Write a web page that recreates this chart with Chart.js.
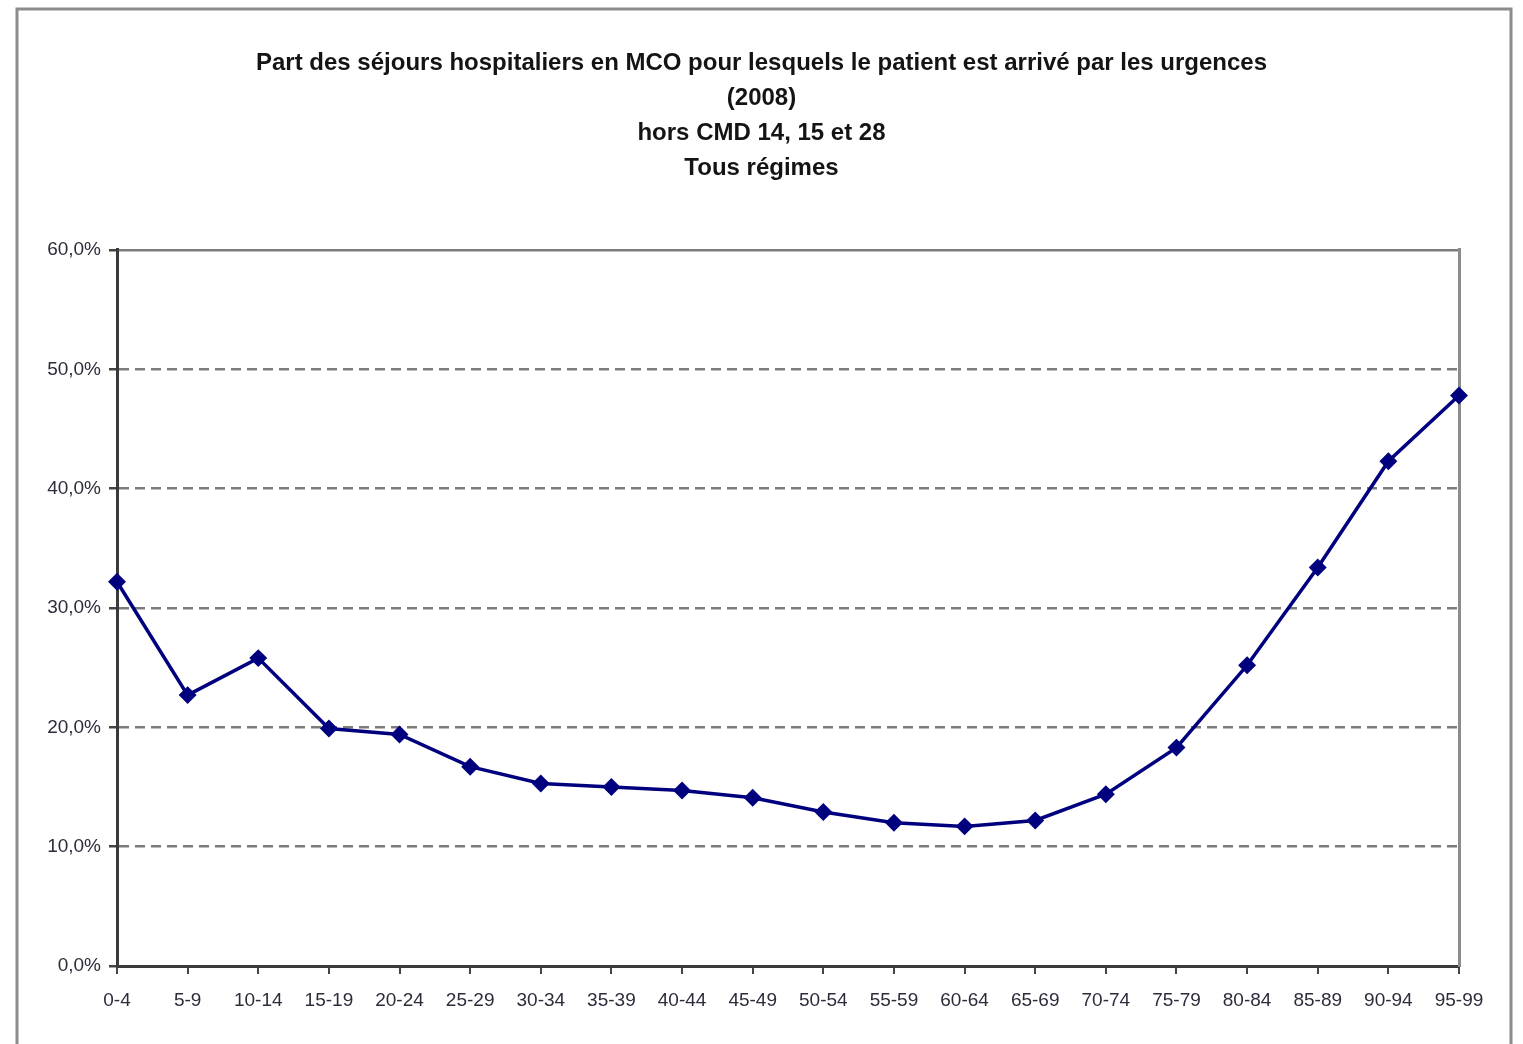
<!DOCTYPE html>
<html>
<head>
<meta charset="utf-8">
<script src="https://cdn.jsdelivr.net/npm/chart.js@4"></script>
<style>
html,body{margin:0;padding:0;background:#fff;}
#wrap{position:relative;width:1523px;height:1044px;}
</style>
</head>
<body>
<div id="wrap"><canvas id="c" width="1523" height="1044"></canvas></div>
<script>
const titleLines = [
  "Part des séjours hospitaliers en MCO pour lesquels le patient est arrivé par les urgences",
  "(2008)",
  "hors CMD 14, 15 et 28",
  "Tous régimes"
];
const ageGroups = ["0-4","5-9","10-14","15-19","20-24","25-29","30-34","35-39","40-44","45-49",
  "50-54","55-59","60-64","65-69","70-74","75-79","80-84","85-89","90-94","95-99"];
const shareUrgences = [32.2, 22.7, 25.8, 19.9, 19.4, 16.7, 15.3, 15.0, 14.7, 14.1,
  12.9, 12.0, 11.7, 12.2, 14.4, 18.3, 25.2, 33.4, 42.3, 47.8];
const yTicks = [0, 10, 20, 30, 40, 50, 60];

const framePlugin = {
  id: 'frame',
  beforeDraw(chart) {
    const ctx = chart.ctx;
    ctx.save();
    ctx.fillStyle = '#ffffff';
    ctx.fillRect(0, 0, chart.width, chart.height);
    ctx.strokeStyle = '#8c8c8c';
    ctx.lineWidth = 3;
    ctx.strokeRect(17, 9, 1494, 1060);
    ctx.restore();
  }
};

const labelFont = {family: "'Liberation Sans', Arial, sans-serif", size: 19};

new Chart(document.getElementById('c'), {
  type: 'line',
  data: {
    labels: ageGroups,
    datasets: [{
      data: shareUrgences,
      borderColor: '#00007f',
      backgroundColor: '#00007f',
      borderWidth: 3.5,
      pointStyle: 'rectRot',
      pointRadius: 6.5,
      pointHoverRadius: 6.5,
      tension: 0,
      fill: false
    }]
  },
  options: {
    responsive: false,
    animation: false,
    events: [],
    layout: {padding: {top: 0, left: 0, right: 0, bottom: 0}},
    plugins: {
      legend: {display: false},
      tooltip: {enabled: false},
      title: {
        display: true,
        text: titleLines,
        color: '#141414',
        font: {family: "'Liberation Sans', Arial, sans-serif", size: 24, weight: 'bold', lineHeight: 1.458},
        padding: {top: 46, bottom: 64}
      }
    },
    scales: {
      x: {
        type: 'category',
        offset: false,
        afterFit(s) { s.height = 78; },
        grid: {
          display: true,
          drawOnChartArea: true,
          drawTicks: true,
          tickLength: 8,
          lineWidth: 2,
          color: (c) => 'rgba(0,0,0,0)',
          tickColor: '#444'
        },
        border: {display: true, color: '#3a3a3a', width: 3},
        ticks: {
          color: '#2c2c3c',
          font: labelFont,
          padding: 15,
          maxRotation: 0,
          autoSkip: false
        }
      },
      y: {
        min: 0,
        max: 60,
        afterFit(s) { s.width = 117; },
        afterBuildTicks(s) { s.ticks = yTicks.map(v => ({value: v})); },
        grid: {
          display: true,
          drawTicks: true,
          tickLength: 8,
          lineWidth: 2.5,
          color: (c) => '#7c7c7c',
          tickColor: '#444'
        },
        border: {
          display: true,
          color: '#3a3a3a',
          width: 3,
          dash: (c) => (c.tick && (c.tick.value === 60 || c.tick.value === 0)) ? [] : [10, 6]
        },
        ticks: {
          color: '#2c2c3c',
          font: labelFont,
          padding: 8,
          callback: (v) => v.toFixed(1).replace('.', ',') + '%'
        }
      },
      y2: {
        position: 'right',
        display: true,
        min: 0,
        max: 60,
        afterFit(s) { s.width = 64; },
        grid: {display: false, drawTicks: false},
        ticks: {display: false},
        border: {display: true, color: '#8c8c8c', width: 3}
      }
    }
  },
  plugins: [framePlugin]
});
</script>
</body>
</html>
